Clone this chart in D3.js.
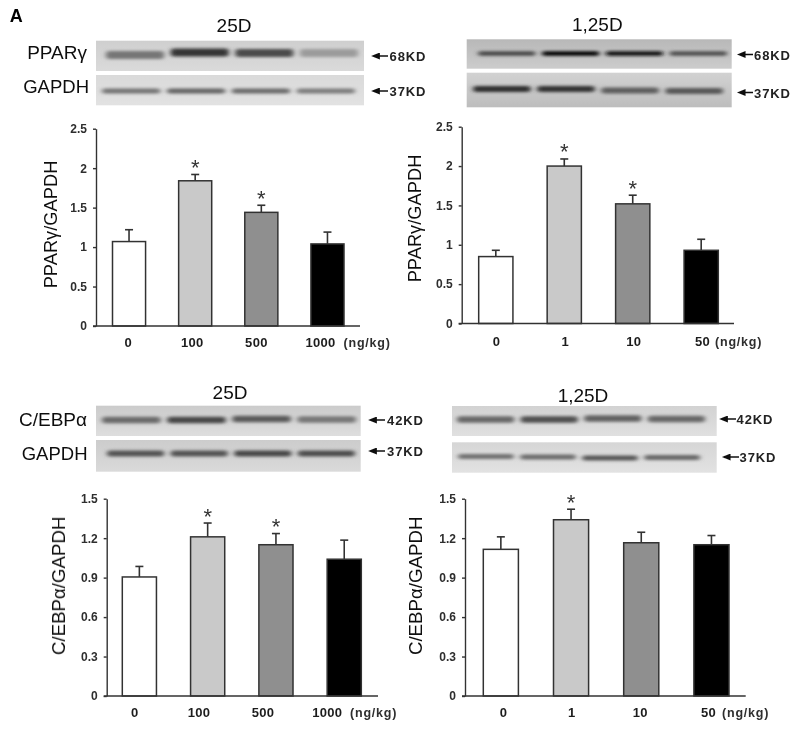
<!DOCTYPE html>
<html>
<head>
<meta charset="utf-8">
<script src="https://cdn.jsdelivr.net/npm/d3@7"></script>
<style>
html,body{margin:0;padding:0;background:#fff}
svg{display:block}
text{font-family:"Liberation Sans",Arial,sans-serif}
</style>
</head>
<body>
<svg id="chart" width="800" height="729"></svg>
<script>
// ---------- data ----------
const doses25D = ["0", "100", "500", "1000"];
const doses125D = ["0", "1", "10", "50"];
const pparTicks = [0, 0.5, 1, 1.5, 2, 2.5];
const cebpTicks = [0, 0.3, 0.6, 0.9, 1.2, 1.5];

const ppar25Mean = [1.07, 1.84, 1.44, 1.04];
const ppar25Upper = [1.22, 1.92, 1.53, 1.19];
const ppar25Star = [false, true, true, false];

const ppar125Mean = [0.85, 2.0, 1.52, 0.93];
const ppar125Upper = [0.93, 2.09, 1.63, 1.07];
const ppar125Star = [false, true, true, false];

const cebp25Mean = [0.905, 1.21, 1.15, 1.04];
const cebp25Upper = [0.985, 1.315, 1.235, 1.185];
const cebp25Star = [false, true, true, false];

const cebp125Mean = [1.115, 1.34, 1.165, 1.15];
const cebp125Upper = [1.21, 1.42, 1.245, 1.22];
const cebp125Star = [false, true, false, false];

// relative darkness of the western-blot bands, lane by lane
const blotPpar25 = [0.55, 0.95, 0.82, 0.32];
const blotGapdhA = [0.60, 0.68, 0.65, 0.55];
const blotPpar125 = [0.62, 1.00, 0.92, 0.58];
const blotGapdhB = [0.88, 0.85, 0.62, 0.65];
const blotCebp25 = [0.60, 0.82, 0.70, 0.52];
const blotGapdhC = [0.72, 0.72, 0.80, 0.75];
const blotCebp125 = [0.65, 0.80, 0.68, 0.65];
const blotGapdhD = [0.60, 0.62, 0.75, 0.65];

// ---------- layout and style ----------
const barFills = ["#ffffff", "#c9c9c9", "#8f8f8f", "#000000"];
const ink = "#333333";

const panels = [
  { title:"25D", titleX:234, titleY:32, yTitle:"PPARγ/GAPDH", yTitleX:56.5, yTitleY:224.5, yTitleSize:18.3,
    axisX:96, axisEnd:360, y0:326, yTop:128.7, domainMax:2.5, ticks:pparTicks,
    barRange:[112.5,344], labelRange:[127.7,320], unitX:343.5, labelY:347,
    doses:doses25D, mean:ppar25Mean, upper:ppar25Upper, star:ppar25Star },
  { title:"1,25D", titleX:597.3, titleY:30.5, yTitle:"PPARγ/GAPDH", yTitleX:420.5, yTitleY:218.5, yTitleSize:18.3,
    axisX:461.7, axisEnd:734, y0:323.5, yTop:126.7, domainMax:2.5, ticks:pparTicks,
    barRange:[478.7,718.3], labelRange:[496,702], unitX:715, labelY:346,
    doses:doses125D, mean:ppar125Mean, upper:ppar125Upper, star:ppar125Star },
  { title:"25D", titleX:230, titleY:399, yTitle:"C/EBPα/GAPDH", yTitleX:65, yTitleY:585.8, yTitleSize:18.7,
    axisX:106.7, axisEnd:378, y0:696, yTop:498.7, domainMax:1.5, ticks:cebpTicks,
    barRange:[122.3,361.3], labelRange:[134.3,326.7], unitX:350, labelY:716.5,
    doses:doses25D, mean:cebp25Mean, upper:cebp25Upper, star:cebp25Star },
  { title:"1,25D", titleX:583, titleY:401.5, yTitle:"C/EBPα/GAPDH", yTitleX:421.5, yTitleY:585.8, yTitleSize:18.7,
    axisX:465, axisEnd:745.7, y0:696, yTop:498.7, domainMax:1.5, ticks:cebpTicks,
    barRange:[483.3,729], labelRange:[503,708], unitX:722, labelY:716.5,
    doses:doses125D, mean:cebp125Mean, upper:cebp125Upper, star:cebp125Star }
];

const strips = [
  { x:[96,364], y:[40.7,71], bg:"#cfcfcf", bgEnd:"#dadada", lanes:[106,358], bandY:53.5, thick:8, tilt:[1.5,-1,-0.5,-0.5], core:"#2e2e2e",
    levels:blotPpar25, label:"PPARγ", labelX:87, labelY:59, labelSize:19, kd:"68KD", arrow:[371,388], arrowY:56, textX:389.5 },
  { x:[96,364], y:[75,105.3], bg:"#dadada", bgEnd:"#e2e2e2", lanes:[102,355], bandY:91, thick:5, tilt:[0,0,0,0], core:"#2e2e2e",
    levels:blotGapdhA, label:"GAPDH", labelX:89, labelY:93, labelSize:18.5, kd:"37KD", arrow:[371,388], arrowY:91, textX:389.5 },
  { x:[466.7,731.7], y:[39.3,68.7], bg:"#b8b8b8", bgEnd:"#cccccc", lanes:[478,727], bandY:53.5, thick:4.5, tilt:[0,0,0,0], core:"#000000",
    levels:blotPpar125, kd:"68KD", arrow:[736.7,753], arrowY:54.5, textX:754 },
  { x:[466.7,731.7], y:[72.7,107.3], bg:"#d2d2d2", bgEnd:"#bdbdbd", lanes:[473,723], bandY:90, thick:6, tilt:[-1,-1,0.5,1], core:"#161616",
    levels:blotGapdhB, kd:"37KD", arrow:[736.7,753], arrowY:92.5, textX:754 },
  { x:[96,360.7], y:[405.7,436], bg:"#cbcbcb", bgEnd:"#dedede", lanes:[102,356], bandY:419.5, thick:6.5, tilt:[0.5,0.5,-0.5,0], core:"#2a2a2a",
    levels:blotCebp25, label:"C/EBPα", labelX:87, labelY:426, labelSize:19, kd:"42KD", arrow:[368,385], arrowY:420, textX:387 },
  { x:[96,360.7], y:[440,471.7], bg:"#cccccc", bgEnd:"#dadada", lanes:[107,355], bandY:453.5, thick:6, tilt:[0,0,0,0], core:"#242424",
    levels:blotGapdhC, label:"GAPDH", labelX:87.5, labelY:459.5, labelSize:18.5, kd:"37KD", arrow:[368,385], arrowY:451, textX:387 },
  { x:[452,716.7], y:[406,436], bg:"#d2d2d2", bgEnd:"#e0e0e0", lanes:[457,705], bandY:419, thick:6.5, tilt:[0.5,0.5,-0.5,0], core:"#2e2e2e",
    levels:blotCebp125, kd:"42KD", arrow:[719,736], arrowY:419, textX:736.5 },
  { x:[452,716.7], y:[442.3,472.7], bg:"#d6d6d6", bgEnd:"#e2e2e2", lanes:[458,700], bandY:457, thick:5, tilt:[-0.5,0,1,0.5], core:"#2a2a2a",
    levels:blotGapdhD, kd:"37KD", arrow:[721.7,739], arrowY:457, textX:739.5 }
];

// ---------- drawing ----------
const svg = d3.select("#chart");
const defs = svg.append("defs");
defs.append("filter").attr("id","bandBlur").attr("x","-20%").attr("y","-200%").attr("width","140%").attr("height","500%")
  .append("feGaussianBlur").attr("stdDeviation","2.4 1.7");
defs.append("filter").attr("id","soft").attr("x","-5%").attr("y","-5%").attr("width","110%").attr("height","110%")
  .append("feGaussianBlur").attr("stdDeviation","0.4");
defs.append("marker").attr("id","arrowHead").attr("viewBox","0 0 10 8").attr("refX",1).attr("refY",4)
  .attr("markerWidth",9).attr("markerHeight",7).attr("markerUnits","userSpaceOnUse").attr("orient","auto")
  .append("path").attr("d","M0,0L10,4L0,8Z").attr("fill","#111");

const root = svg.append("g").attr("filter","url(#soft)");

root.append("text").attr("x",9.8).attr("y",22.3).attr("font-size",18).attr("font-weight","bold").attr("fill","#000").text("A");

// blots
strips.forEach((s,i) => {
  const w = s.x[1]-s.x[0], h = s.y[1]-s.y[0];
  const gradId = "bg"+i, clipId = "clip"+i;
  const grad = defs.append("linearGradient").attr("id",gradId).attr("x1",0).attr("y1",0).attr("x2",0).attr("y2",1);
  grad.append("stop").attr("offset","0%").attr("stop-color",s.bg);
  grad.append("stop").attr("offset","100%").attr("stop-color",s.bgEnd);
  defs.append("clipPath").attr("id",clipId).append("rect").attr("x",s.x[0]).attr("y",s.y[0]).attr("width",w).attr("height",h);

  root.append("rect").attr("x",s.x[0]).attr("y",s.y[0]).attr("width",w).attr("height",h).attr("fill","url(#"+gradId+")");

  const lane = d3.scaleBand().domain(d3.range(4)).range(s.lanes).paddingInner(0.1);
  const dark = d3.scaleLinear().domain([0,1]).range([s.bg,s.core]);
  root.append("g").attr("clip-path","url(#"+clipId+")").append("g").attr("filter","url(#bandBlur)")
    .selectAll("rect").data(s.levels).join("rect")
      .attr("x",(d,j)=>lane(j)).attr("width",lane.bandwidth())
      .attr("y",(d,j)=>s.bandY+s.tilt[j]-s.thick/2).attr("height",s.thick)
      .attr("rx",3).attr("fill",d=>dark(d));

  if (s.label) {
    root.append("text").attr("x",s.labelX).attr("y",s.labelY).attr("text-anchor","end")
      .attr("font-size",s.labelSize).attr("fill","#111").text(s.label);
  }
  root.append("line").attr("x1",s.arrow[1]).attr("x2",s.arrow[0]+8).attr("y1",s.arrowY).attr("y2",s.arrowY)
    .attr("stroke","#111").attr("stroke-width",1.5).attr("marker-end","url(#arrowHead)");
  root.append("text").attr("x",s.textX).attr("y",s.arrowY+5).attr("font-size",13).attr("font-weight","bold")
    .attr("letter-spacing",0.9).attr("fill","#222").text(s.kd);
});

// bar charts
panels.forEach(p => {
  const g = root.append("g");
  const y = d3.scaleLinear().domain([0,p.domainMax]).range([p.y0,p.yTop]);
  const x = d3.scaleBand().domain(p.doses).range(p.barRange).paddingInner(0.5);
  const lab = d3.scalePoint().domain(p.doses).range(p.labelRange);
  const rows = p.doses.map((d,i)=>({dose:d,mean:p.mean[i],upper:p.upper[i],star:p.star[i],fill:barFills[i]}));

  g.append("text").attr("x",p.titleX).attr("y",p.titleY).attr("text-anchor","middle").attr("font-size",19).attr("fill","#111").text(p.title);

  g.append("text").attr("transform",`translate(${p.yTitleX},${p.yTitleY}) rotate(-90)`).attr("text-anchor","middle")
    .attr("font-size",p.yTitleSize).attr("fill","#111").text(p.yTitle);

  // error bars first, so that the bar top covers the stem's foot
  const cx = d => x(d.dose)+x.bandwidth()/2;
  g.selectAll(".stem").data(rows).join("line").attr("class","stem")
    .attr("x1",cx).attr("x2",cx).attr("y1",d=>y(d.mean)).attr("y2",d=>y(d.upper))
    .attr("stroke",ink).attr("stroke-width",1.6);
  g.selectAll(".cap").data(rows).join("line").attr("class","cap")
    .attr("x1",d=>cx(d)-4).attr("x2",d=>cx(d)+4).attr("y1",d=>y(d.upper)).attr("y2",d=>y(d.upper))
    .attr("stroke",ink).attr("stroke-width",1.6);

  g.selectAll(".bar").data(rows).join("rect").attr("class","bar")
    .attr("x",d=>x(d.dose)).attr("width",x.bandwidth())
    .attr("y",d=>y(d.mean)).attr("height",d=>y(0)-y(d.mean))
    .attr("fill",d=>d.fill).attr("stroke",ink).attr("stroke-width",1.5);

  g.selectAll(".star").data(rows.filter(d=>d.star)).join("text").attr("class","star")
    .attr("x",cx).attr("y",d=>y(d.upper)+0.5).attr("text-anchor","middle")
    .attr("font-size",22).attr("fill","#333").text("*");

  // axes
  const yAxis = g.append("g").attr("transform",`translate(${p.axisX},0)`)
    .call(d3.axisLeft(y).tickValues(p.ticks).tickFormat(d3.format("~g")).tickSize(3).tickSizeOuter(0).tickPadding(6));
  yAxis.selectAll("path,line").attr("stroke",ink).attr("stroke-width",1.4);
  yAxis.selectAll("text").attr("font-size",12).attr("font-weight","bold").attr("fill","#2e2e2e")
    .style("font-family","'Liberation Sans',Arial,sans-serif");

  g.append("line").attr("x1",p.axisX-3).attr("x2",p.axisEnd).attr("y1",p.y0).attr("y2",p.y0)
    .attr("stroke",ink).attr("stroke-width",1.4);

  const xAxis = g.append("g").attr("transform",`translate(0,${p.labelY-10})`)
    .call(d3.axisBottom(lab).tickSize(0).tickPadding(0));
  xAxis.select("path").remove();
  xAxis.selectAll("text").attr("y",10).attr("dy",0).attr("font-size",13).attr("font-weight","bold").attr("fill","#1e1e1e")
    .style("font-family","'Liberation Sans',Arial,sans-serif").attr("letter-spacing",0.3);

  g.append("text").attr("x",p.unitX).attr("y",p.labelY).attr("font-size",12.5).attr("font-weight","bold")
    .attr("fill","#2e2e2e").attr("letter-spacing",0.8).text("(ng/kg)");
});
</script>
</body>
</html>
